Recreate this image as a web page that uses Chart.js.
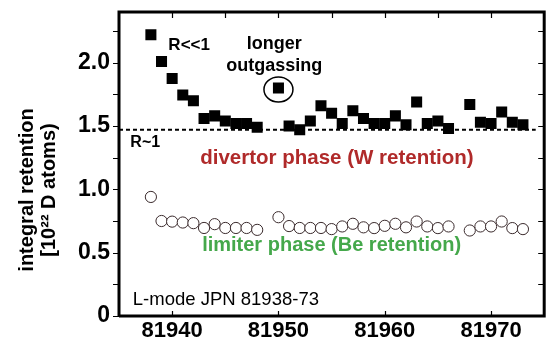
<!DOCTYPE html>
<html>
<head>
<meta charset="utf-8">
<script src="https://cdn.jsdelivr.net/npm/chart.js@4/dist/chart.umd.min.js"></script>
<style>
  html, body { margin: 0; padding: 0; background: #fff; overflow: hidden; }
  #wrap { width: 547px; height: 341px; overflow: hidden; }
</style>
</head>
<body>
<div id="wrap"><canvas id="retChart" width="552" height="341"></canvas></div>
<script>
// shot numbers (JPN) and integral retention, 10^22 D atoms
var shots = [81938, 81939, 81940, 81941, 81942, 81943, 81944, 81945, 81946, 81947, 81948,
             81950, 81951, 81952, 81953, 81954, 81955, 81956, 81957, 81958, 81959, 81960,
             81961, 81962, 81963, 81964, 81965, 81966, 81968, 81969, 81970, 81971, 81972, 81973];
var divertorW = [2.22, 2.01, 1.875, 1.745, 1.70, 1.56, 1.58, 1.54, 1.52, 1.52, 1.49,
                 1.80, 1.50, 1.47, 1.54, 1.66, 1.60, 1.52, 1.62, 1.56, 1.52, 1.52,
                 1.58, 1.51, 1.69, 1.52, 1.54, 1.48, 1.67, 1.53, 1.52, 1.61, 1.53, 1.51];
var limiterBe = [0.94, 0.75, 0.745, 0.738, 0.733, 0.695, 0.725, 0.695, 0.695, 0.695, 0.68,
                 0.78, 0.71, 0.695, 0.695, 0.695, 0.686, 0.707, 0.728, 0.70, 0.694, 0.712,
                 0.728, 0.70, 0.746, 0.707, 0.694, 0.707, 0.675, 0.707, 0.707, 0.746, 0.694, 0.686];
var levelShots = [81935, 81974.2];
var levelR1 = [1.47, 1.47];
var xTicks = [81940, 81950, 81960, 81970];
var yTicks = [0, 0.25, 0.5, 0.75, 1.0, 1.25, 1.5, 1.75, 2.0, 2.25];

var FONT = '"Liberation Sans", Arial, Helvetica, sans-serif';

function pts(xs, ys) {
    return xs.map(function (x, i) { return { x: x, y: ys[i] }; });
}

// frame, inward/outward ticks, axis title and the text labels
var decorations = {
    id: 'decorations',
    afterDraw: function (chart) {
        var ctx = chart.ctx;
        var a = chart.chartArea;
        var xs = chart.scales.x, ys = chart.scales.y;
        ctx.save();
        ctx.strokeStyle = '#000';
        ctx.fillStyle = '#000';

        // frame
        ctx.lineWidth = 3;
        ctx.beginPath();
        ctx.moveTo(a.left, a.bottom);
        ctx.lineTo(a.left, a.top);
        ctx.lineTo(a.right, a.top);
        ctx.lineTo(a.right, a.bottom);
        ctx.lineTo(a.left, a.bottom);
        ctx.stroke();

        // y ticks: outside on the left, inside on the right
        ctx.lineWidth = 1.2;
        yTicks.forEach(function (v) {
            var py = Math.round(ys.getPixelForValue(v)) + 0.5;
            ctx.beginPath();
            ctx.moveTo(a.left - 6, py);
            ctx.lineTo(a.left, py);
            ctx.moveTo(a.right - 6, py);
            ctx.lineTo(a.right, py);
            ctx.stroke();
        });
        // x ticks: inside at the bottom, every 5 shots along the top
        xTicks.forEach(function (v) {
            var px = Math.round(xs.getPixelForValue(v)) + 0.5;
            ctx.beginPath();
            ctx.moveTo(px, a.bottom);
            ctx.lineTo(px, a.bottom - 5);
            ctx.stroke();
        });
        for (var s = 81940; s < 81975; s += 5) {
            var tx = Math.round(xs.getPixelForValue(s)) + 0.5;
            ctx.beginPath();
            ctx.moveTo(tx, a.top);
            ctx.lineTo(tx, a.top + 6);
            ctx.stroke();
        }

        // y axis title
        ctx.save();
        ctx.translate(0, 190);
        ctx.rotate(-Math.PI / 2);
        ctx.textAlign = 'center';
        ctx.textBaseline = 'middle';
        ctx.font = 'bold 20px ' + FONT;
        ctx.fillText('integral retention', 0, 27);
        ctx.fillText('[10²² D atoms)', 0, 49);
        ctx.restore();

        function at(x, y) { return [xs.getPixelForValue(x), ys.getPixelForValue(y)]; }
        function label(text, x, y, font, color, align) {
            var p = at(x, y);
            ctx.font = font;
            ctx.fillStyle = color;
            ctx.textAlign = align || 'center';
            ctx.textBaseline = 'middle';
            ctx.fillText(text, p[0], p[1]);
        }

        label('R<<1', 81941.6, 2.136, 'bold 17px ' + FONT, '#000');
        label('longer', 81949.6, 2.144, 'bold 18px ' + FONT, '#000');
        label('outgassing', 81949.6, 1.97, 'bold 18px ' + FONT, '#000');
        label('R~1', 81937.47, 1.369, 'bold 16px ' + FONT, '#000');
        label('divertor phase (W retention)', 81955.5, 1.242, 'bold 20.5px ' + FONT, '#b02a2a');
        label('limiter phase (Be retention)', 81955, 0.554, 'bold 20px ' + FONT, '#45a84b');
        label('L-mode JPN 81938-73', 81936.3, 0.13, '18.5px ' + FONT, '#000', 'left');

        // ring round the long-outgassing shot
        var c = at(81950, divertorW[shots.indexOf(81950)]);
        ctx.strokeStyle = '#000';
        ctx.lineWidth = 1.5;
        ctx.beginPath();
        ctx.ellipse(c[0], c[1] + 1.5, 14.5, 12.5, 0, 0, Math.PI * 2);
        ctx.stroke();

        ctx.restore();
    }
};

var ctx = document.getElementById('retChart').getContext('2d');
var retChart = new Chart(ctx, {
    type: 'scatter',
    data: {
        datasets: [
            {
                label: 'divertor phase (W retention)',
                data: pts(shots, divertorW),
                pointStyle: 'rect',
                pointRadius: 7.8,
                backgroundColor: '#000',
                borderColor: '#000',
                borderWidth: 0,
                order: 0
            },
            {
                label: 'limiter phase (Be retention)',
                data: pts(shots, limiterBe),
                pointStyle: 'circle',
                pointRadius: 5.6,
                backgroundColor: '#fff',
                borderColor: '#3a2a2c',
                borderWidth: 1,
                order: 1
            },
            {
                label: 'R~1',
                type: 'line',
                data: pts(levelShots, levelR1),
                borderColor: '#000',
                borderWidth: 2,
                borderDash: [4, 3],
                pointRadius: 0,
                fill: false,
                order: 2
            }
        ]
    },
    options: {
        responsive: false,
        animation: false,
        layout: { padding: { top: 12, right: 3, left: 0, bottom: 0 } },
        plugins: {
            legend: { display: false },
            tooltip: { enabled: false }
        },
        scales: {
            x: {
                type: 'linear',
                min: 81935,
                max: 81975,
                afterBuildTicks: function (scale) {
                    scale.ticks = xTicks.map(function (v) { return { value: v }; });
                },
                afterFit: function (scale) {
                    scale.height = 25;
                    scale.paddingLeft = 0;
                    scale.paddingRight = 0;
                },
                grid: { display: false, drawTicks: false },
                border: { display: false },
                ticks: {
                    color: '#000',
                    padding: 2,
                    maxRotation: 0,
                    font: { family: FONT, size: 22, weight: 'bold' },
                    callback: function (v) { return String(v); }
                }
            },
            y: {
                min: 0,
                max: 2.4,
                afterBuildTicks: function (scale) {
                    scale.ticks = yTicks.map(function (v) { return { value: v }; });
                },
                afterFit: function (scale) {
                    scale.width = 119;
                    scale.paddingTop = 0;
                    scale.paddingBottom = 0;
                },
                grid: { display: false, drawTicks: false },
                border: { display: false },
                ticks: {
                    color: '#000',
                    padding: 9,
                    font: { family: FONT, size: 23, weight: 'bold' },
                    callback: function (v) {
                        if (v === 0) return '0';
                        return (Math.round(v * 100) % 50 === 0) ? v.toFixed(1) : '';
                    }
                }
            }
        }
    },
    plugins: [decorations]
});
</script>
</body>
</html>
